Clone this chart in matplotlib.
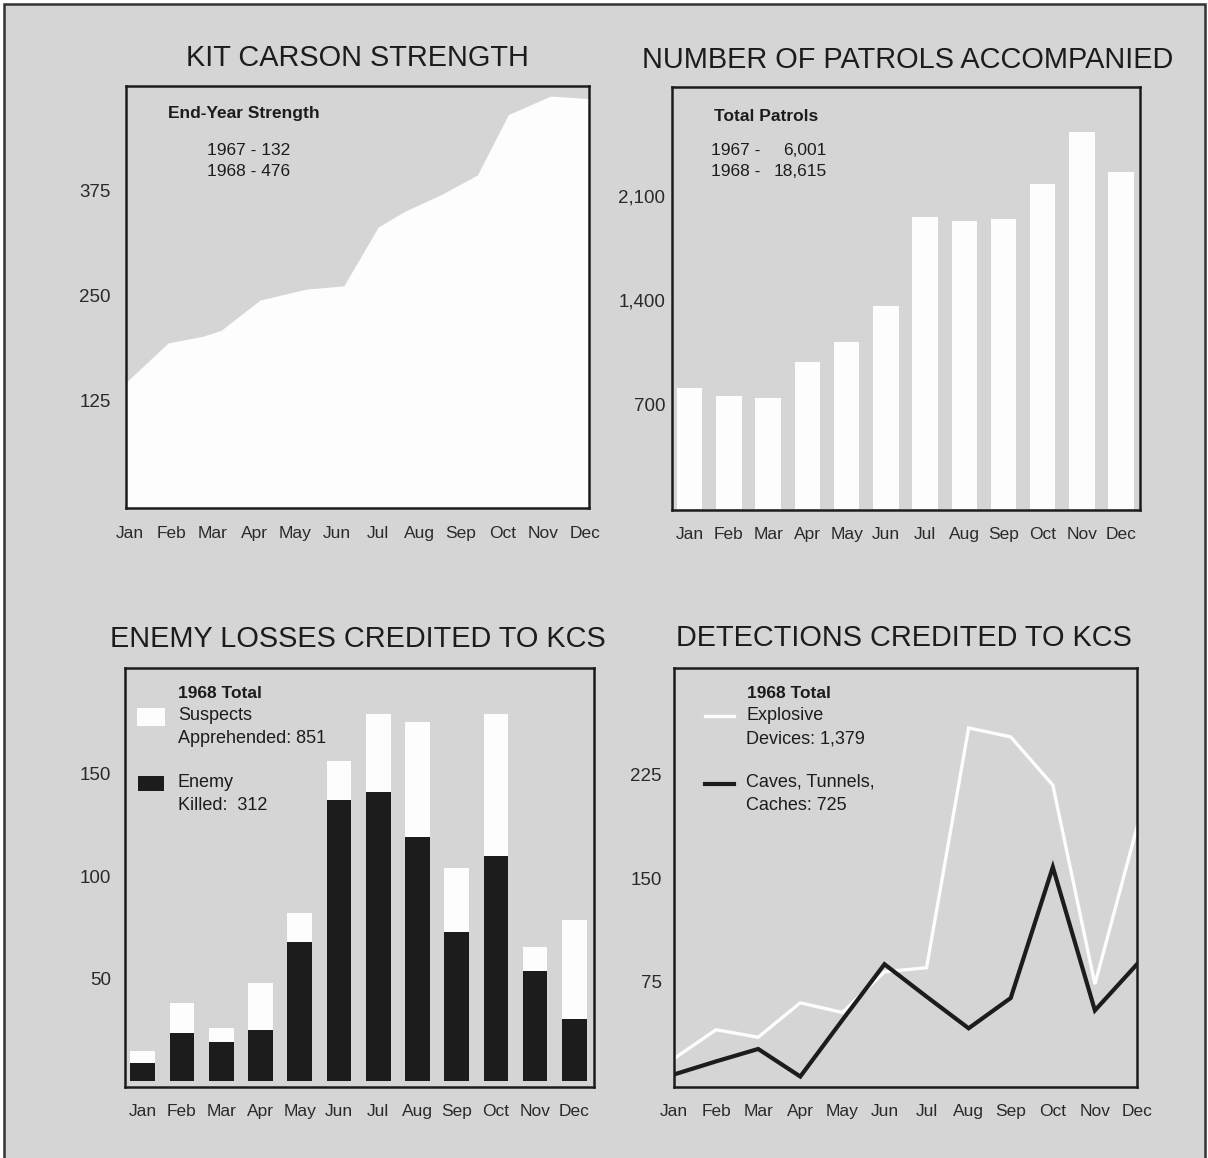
import matplotlib
matplotlib.use('Agg')
import matplotlib.pyplot as plt
from matplotlib.patches import Rectangle
from matplotlib.lines import Line2D

plt.rcParams['font.family'] = ['Liberation Sans', 'DejaVu Sans']

months = ['Jan', 'Feb', 'Mar', 'Apr', 'May', 'Jun', 'Jul', 'Aug', 'Sep', 'Oct', 'Nov', 'Dec']

# kit carson strength (breakpoints, x in months)
strength_x = [-0.1, 0.92, 1.76, 2.2, 3.14, 4.25, 5.17, 6.0, 6.65, 7.5, 8.4, 9.15, 10.17, 11.1]
strength = [146, 193, 201, 208, 244, 257, 261, 331, 350, 369, 393, 465, 487, 484]

# patrols accompanied
patrols = [810, 759, 742, 986, 1120, 1357, 1957, 1933, 1945, 2175, 2529, 2257]

# enemy losses
killed = [9, 23.5, 19, 25, 68, 137, 141, 119, 73, 110, 54, 30.5]
apprehended = [6, 14.5, 7, 23, 14, 19, 38, 56, 31, 69, 11.5, 48]

# detections
explosives = [19, 40, 34.5, 59.5, 52.5, 82, 85, 259, 252.5, 217.5, 73, 187]
caves = [7.5, 17, 26, 6, 47, 87.5, 64, 41, 63, 158, 54, 87.5]

GRAY = '#d5d5d5'
INK = '#1c1c1c'
WHITE = '#fdfdfd'

W, H = 1208, 1158
fig = plt.figure(figsize=(W / 100, H / 100), dpi=100, facecolor='white')
fig.add_artist(Rectangle((4 / W, -0.01), 1201 / W, 1 - 4 / H + 0.01, transform=fig.transFigure,
                         facecolor=GRAY, edgecolor='#333333', linewidth=1.8, zorder=0))


def make_ax(left, top, right, bottom):
    ax = fig.add_axes([left / W, 1 - bottom / H, (right - left) / W, (bottom - top) / H])
    ax.set_facecolor(GRAY)
    for s in ax.spines.values():
        s.set_linewidth(1.8)
        s.set_color(INK)
    ax.tick_params(length=0, colors='#2a2a2a')
    return ax


def month_ticks(ax, pad=14):
    ax.set_xticks(range(12))
    ax.set_xticklabels(months, fontsize=12.5)
    ax.tick_params(axis='x', pad=pad)


# ---- KIT CARSON STRENGTH
ax1 = make_ax(126, 86, 589, 508)
ax1.fill_between(strength_x, strength, -10, color=WHITE, lw=0)
ax1.set_xlim(-0.1, 11.1)
ax1.set_ylim(-3.6, 499)
ax1.set_yticks([125, 250, 375])
ax1.set_yticklabels(['125', '250', '375'], fontsize=13.5)
ax1.tick_params(axis='y', pad=11)
month_ticks(ax1, 13)
ax1.text(0.091, 0.934, 'End-Year Strength', transform=ax1.transAxes, fontsize=12.5,
         fontweight='bold', color=INK, va='center')
ax1.text(0.174, 0.822, '1967 - 132\n1968 - 476', transform=ax1.transAxes, fontsize=12.5,
         color=INK, va='center', linespacing=1.5)
fig.text(357 / W, 1 - 58 / H, 'KIT CARSON STRENGTH', ha='center', va='center', fontsize=20.8, color=INK)

# ---- NUMBER OF PATROLS ACCOMPANIED
ax2 = make_ax(672, 87, 1140, 510)
ax2.bar(range(12), patrols, width=0.65, color=WHITE)
ax2.set_xlim(-0.45, 11.48)
ax2.set_ylim(-7, 2828)
ax2.set_yticks([700, 1400, 2100])
ax2.set_yticklabels(['700', '1,400', '2,100'], fontsize=13.5)
ax2.tick_params(axis='y', pad=5)
month_ticks(ax2, 12)
ax2.text(0.09, 0.931, 'Total Patrols', transform=ax2.transAxes, fontsize=12.5,
         fontweight='bold', color=INK, va='center')
ax2.text(0.083, 0.825, '1967 -\n1968 -', transform=ax2.transAxes, fontsize=12.5,
         color=INK, va='center', linespacing=1.5)
ax2.text(0.331, 0.825, '6,001\n18,615', transform=ax2.transAxes, fontsize=12.5,
         color=INK, va='center', ha='right', multialignment='right', linespacing=1.5)
fig.text(908 / W, 1 - 60 / H, 'NUMBER OF PATROLS ACCOMPANIED', ha='center', va='center', fontsize=20.8, color=INK)

# ---- ENEMY LOSSES CREDITED TO KCS
ax3 = make_ax(125, 668, 594, 1087)
ax3.bar(range(12), killed, width=0.63, color=INK)
ax3.bar(range(12), apprehended, bottom=killed, width=0.63, color=WHITE)
ax3.set_xlim(-0.45, 11.5)
ax3.set_ylim(-2.7, 201.4)
ax3.set_yticks([50, 100, 150])
ax3.set_yticklabels(['50', '100', '150'], fontsize=13.5)
ax3.tick_params(axis='y', pad=10)
month_ticks(ax3, 12)
ax3.text(0.113, 0.938, '1968 Total', transform=ax3.transAxes, fontsize=12.5,
         fontweight='bold', color=INK, va='center')
ax3.add_patch(Rectangle((0.026, 0.862), 0.059, 0.042, transform=ax3.transAxes,
                        facecolor=WHITE, edgecolor='none'))
ax3.text(0.113, 0.859, 'Suspects\nApprehended: 851', transform=ax3.transAxes, fontsize=13,
         color=INK, va='center', linespacing=1.45)
ax3.add_patch(Rectangle((0.028, 0.706), 0.055, 0.036, transform=ax3.transAxes,
                        facecolor=INK, edgecolor='none'))
ax3.text(0.113, 0.700, 'Enemy\nKilled:  312', transform=ax3.transAxes, fontsize=13,
         color=INK, va='center', linespacing=1.45)
fig.text(358 / W, 1 - 639 / H, 'ENEMY LOSSES CREDITED TO KCS', ha='center', va='center', fontsize=20.8, color=INK)

# ---- DETECTIONS CREDITED TO KCS
ax4 = make_ax(674, 668, 1137, 1087)
ax4.plot(range(12), explosives, color=WHITE, lw=2.4, solid_joinstyle='miter')
ax4.plot(range(12), caves, color=INK, lw=3.0, solid_joinstyle='miter')
ax4.set_xlim(0, 11)
ax4.set_ylim(-1.6, 302.5)
ax4.set_yticks([75, 150, 225])
ax4.set_yticklabels(['75', '150', '225'], fontsize=13.5)
ax4.tick_params(axis='y', pad=9)
month_ticks(ax4, 12)
ax4.text(0.157, 0.938, '1968 Total', transform=ax4.transAxes, fontsize=12.5,
         fontweight='bold', color=INK, va='center')
ax4.add_line(Line2D([0.067, 0.13], [0.886, 0.886], transform=ax4.transAxes, color=WHITE, lw=2.4))
ax4.text(0.156, 0.859, 'Explosive\nDevices: 1,379', transform=ax4.transAxes, fontsize=13,
         color=INK, va='center', linespacing=1.45)
ax4.add_line(Line2D([0.067, 0.13], [0.723, 0.723], transform=ax4.transAxes, color=INK, lw=3.0))
ax4.text(0.156, 0.700, 'Caves, Tunnels,\nCaches: 725', transform=ax4.transAxes, fontsize=13,
         color=INK, va='center', linespacing=1.45)
fig.text(904 / W, 1 - 638 / H, 'DETECTIONS CREDITED TO KCS', ha='center', va='center', fontsize=20.8, color=INK)

fig.savefig('out.png', dpi=100, facecolor='white')
